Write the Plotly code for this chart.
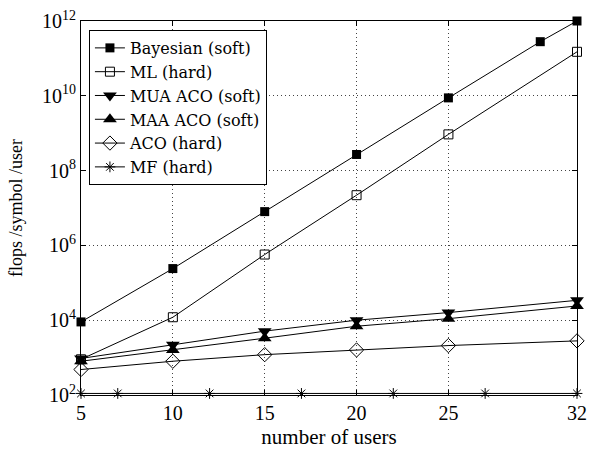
import plotly.graph_objects as go

users = [5, 10, 15, 20, 25, 32]
bayes_x = [5, 10, 15, 20, 25, 30, 32]
bayes_soft = [9e3, 2.4e5, 8.0e6, 2.7e8, 8.8e9, 2.8e11, 1.0e12]
ml_hard = [9e2, 1.2e4, 5.7e5, 2.2e7, 9.3e8, 1.5e11]
mua_aco_soft = [9.5e2, 2.2e3, 5.1e3, 1.0e4, 1.6e4, 3.4e4]
maa_aco_soft = [8.0e2, 1.6e3, 3.3e3, 6.9e3, 1.1e4, 2.4e4]
aco_hard = [4.8e2, 8.0e2, 1.2e3, 1.6e3, 2.1e3, 2.8e3]
mf_x = [5, 7, 12, 17, 22, 27, 32]
mf_hard = [110, 110, 110, 110, 110, 110, 110]

x_ticks = [5, 10, 15, 20, 25, 32]
y_ticks = [1e2, 1e4, 1e6, 1e8, 1e10, 1e12]
y_ticktext = ["10<sup>2</sup>", "10<sup>4</sup>", "10<sup>6</sup>", "10<sup>8</sup>",
              "10<sup>10</sup>", "10<sup>12</sup>"]

FONT = "Liberation Serif"
LEG_FONT = "DejaVu Serif"
line = dict(color="black", width=1)

fig = go.Figure()
series = [
    ("Bayesian (soft)", bayes_x, bayes_soft, dict(symbol="square", size=9, color="black")),
    ("ML (hard)", users, ml_hard, dict(symbol="square-open", size=9, color="black", line=dict(width=1))),
    ("MUA ACO (soft)", users, mua_aco_soft, dict(symbol="triangle-down", size=12, color="black")),
    ("MAA ACO (soft)", users, maa_aco_soft, dict(symbol="triangle-up", size=12, color="black")),
    ("ACO (hard)", users, aco_hard, dict(symbol="diamond-open", size=11, color="black", line=dict(width=1))),
    ("MF (hard)", mf_x, mf_hard, dict(symbol="asterisk-open", size=9, color="black", line=dict(width=1, color="black"))),
]
for name, xs, ys, mk in series:
    fig.add_trace(go.Scatter(x=xs, y=ys, name=name, mode="lines+markers",
                             line=line, marker=mk, cliponaxis=False))

axis_common = dict(
    showline=True, linecolor="black", linewidth=1, mirror="ticks",
    ticks="inside", ticklen=5, tickcolor="black",
    showgrid=True, gridcolor="#444", griddash="1px,3px", gridwidth=1,
    zeroline=False, automargin=False,
    tickfont=dict(family=FONT, size=20, color="black"),
)

fig.update_layout(
    width=595, height=449,
    margin=dict(l=81, r=18, t=21, b=54),
    paper_bgcolor="white", plot_bgcolor="white",
    font=dict(family=FONT, size=20, color="black"),
    showlegend=True,
    legend=dict(x=0.016, y=0.976, xanchor="left", yanchor="top",
                bgcolor="white", bordercolor="black", borderwidth=1,
                font=dict(family=LEG_FONT, size=16, color="black"),
                tracegroupgap=0, itemwidth=30),
    xaxis=dict(range=[5, 32], tickvals=x_ticks, ticktext=[str(v) for v in x_ticks],
               title=dict(text="number of users", font=dict(family=FONT, size=21), standoff=6),
               **axis_common),
    yaxis=dict(type="log", range=[2, 12], tickvals=y_ticks, ticktext=y_ticktext,
               title=dict(text="flops /symbol /user", font=dict(family=FONT, size=18), standoff=14),
               **axis_common),
)

fig.write_html("out.html", post_script="document.body.style.margin='0';",
               config={"displayModeBar": False})
